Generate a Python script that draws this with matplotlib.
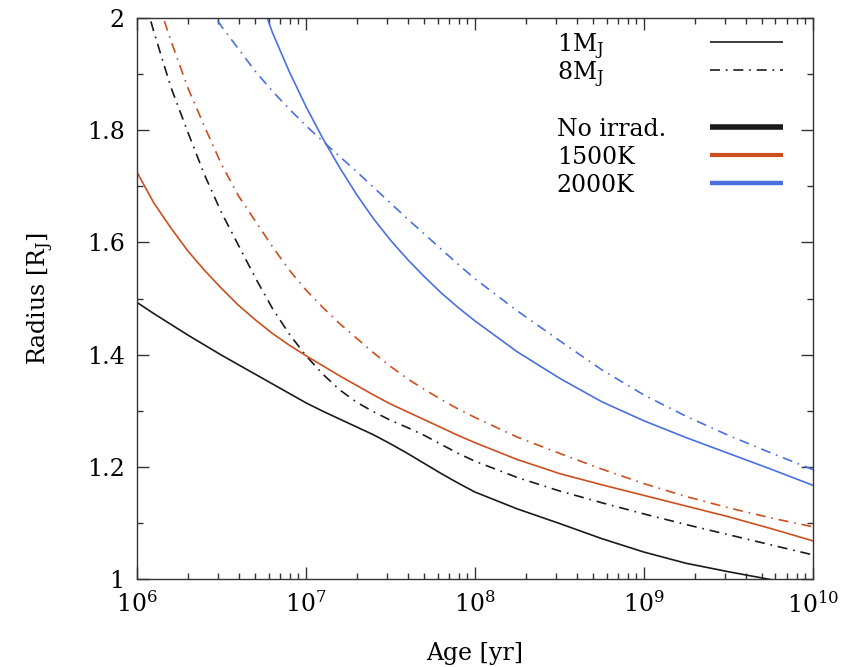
import numpy as np
import matplotlib
matplotlib.use("Agg")
import matplotlib.pyplot as plt
from matplotlib.ticker import LogLocator, LogFormatterMathtext, MultipleLocator, NullFormatter

plt.rcParams["font.family"] = ["DejaVu Serif"]
plt.rcParams["mathtext.fontset"] = "dejavuserif"
plt.rcParams["font.size"] = 17

nan = np.nan

# log10 of age [yr]
log_age = [6.0, 6.1, 6.2, 6.3, 6.4, 6.5, 6.6, 6.7, 6.8, 6.9,
           7.0, 7.1, 7.2, 7.3, 7.4, 7.5, 7.6, 7.7, 7.8, 7.9,
           8.0, 8.25, 8.5, 8.75, 9.0, 9.25, 9.5, 9.75, 10.0]

# radius [R_J]
r_1mj_noirr = [1.493, 1.473, 1.454, 1.435, 1.417, 1.399, 1.382, 1.365, 1.348, 1.331,
               1.314, 1.299, 1.285, 1.271, 1.257, 1.241, 1.224, 1.206, 1.188, 1.171,
               1.155, 1.125, 1.099, 1.072, 1.048, 1.028, 1.013, 0.999, 0.986]
r_8mj_noirr = [2.08, 1.975, 1.877, 1.797, 1.720, 1.653, 1.595, 1.537, 1.483, 1.437,
               1.398, 1.365, 1.337, 1.315, 1.298, 1.283, 1.270, 1.256, 1.240, 1.224,
               1.210, 1.181, 1.157, 1.136, 1.116, 1.097, 1.079, 1.061, 1.043]
r_1mj_1500 = [1.725, 1.670, 1.626, 1.585, 1.550, 1.518, 1.488, 1.462, 1.438, 1.417,
              1.398, 1.380, 1.362, 1.345, 1.328, 1.312, 1.298, 1.284, 1.270, 1.256,
              1.243, 1.213, 1.188, 1.168, 1.149, 1.130, 1.111, 1.090, 1.068]
r_8mj_1500 = [2.14, 2.05, 1.960, 1.876, 1.806, 1.739, 1.683, 1.638, 1.593, 1.551,
              1.515, 1.484, 1.455, 1.429, 1.403, 1.379, 1.357, 1.338, 1.320, 1.303,
              1.288, 1.253, 1.224, 1.196, 1.170, 1.147, 1.127, 1.109, 1.093]
r_1mj_2000 = [nan, nan, nan, nan, nan, nan, nan, 2.06, 1.975, 1.905,
              1.842, 1.785, 1.733, 1.685, 1.642, 1.604, 1.570, 1.539, 1.510, 1.484,
              1.460, 1.405, 1.358, 1.316, 1.282, 1.252, 1.224, 1.196, 1.167]
r_8mj_2000 = [nan, nan, nan, nan, 2.03, 1.985, 1.945, 1.905, 1.870, 1.838,
              1.808, 1.780, 1.753, 1.726, 1.698, 1.670, 1.642, 1.615, 1.588, 1.561,
              1.535, 1.478, 1.425, 1.373, 1.328, 1.290, 1.256, 1.225, 1.195]

age = 10.0 ** np.array(log_age)

black = "#1a1a1a"
orange = "#cc4f1e"
blue = "#4a70e0"
dashdot = (0, (6, 3.5, 1, 3.5))

fig, ax = plt.subplots(figsize=(8.48, 6.67), dpi=100)
fig.subplots_adjust(left=0.1616, right=0.9587, bottom=0.1319, top=0.973)

lw = 1.2
ax.plot(age, r_1mj_noirr, color=black, lw=lw)
ax.plot(age, r_8mj_noirr, color=black, lw=lw, linestyle=dashdot)
ax.plot(age, r_1mj_1500, color=orange, lw=lw)
ax.plot(age, r_8mj_1500, color=orange, lw=lw, linestyle=dashdot)
ax.plot(age, r_1mj_2000, color=blue, lw=lw)
ax.plot(age, r_8mj_2000, color=blue, lw=lw, linestyle=dashdot)

ax.set_xscale("log")
ax.set_xlim(1e6, 1e10)
ax.set_ylim(1, 2)
ax.xaxis.set_major_locator(LogLocator(base=10, numticks=10))
ax.xaxis.set_minor_locator(LogLocator(base=10, subs=np.arange(2, 10), numticks=50))
ax.xaxis.set_major_formatter(LogFormatterMathtext())
ax.xaxis.set_minor_formatter(NullFormatter())
ax.yaxis.set_major_locator(MultipleLocator(0.2))
ax.yaxis.set_minor_locator(MultipleLocator(0.1))
ax.set_yticks([1, 1.2, 1.4, 1.6, 1.8, 2])
ax.set_yticklabels(["1", "1.2", "1.4", "1.6", "1.8", "2"])

ax.tick_params(which="both", direction="in", top=True, right=True, color="#333333")
ax.tick_params(which="major", length=8.5, width=1.0, pad=9)
ax.tick_params(which="minor", length=4.5, width=1.0)
for s in ax.spines.values():
    s.set_linewidth(1.0)
    s.set_color("#333333")

ax.set_xlabel("Age [yr]", labelpad=17)
ax.set_ylabel("Radius [R$_\\mathrm{J}$]", labelpad=22)

# gnuplot-style key: text left, sample on the right
keys = [("1M$_\\mathrm{J}$", black, 1.2, "-", 0.957),
        ("8M$_\\mathrm{J}$", black, 1.2, dashdot, 0.907),
        ("No irrad.", black, 4.0, "-", 0.806),
        ("1500K", orange, 3.0, "-", 0.756),
        ("2000K", blue, 3.2, "-", 0.706)]
for label, c, w, ls, yk in keys:
    ax.text(0.621, yk - 0.017, label, transform=ax.transAxes, va="baseline", ha="left")
    ax.plot([0.848, 0.956], [yk, yk], transform=ax.transAxes, color=c, lw=w,
            linestyle=ls, solid_capstyle="butt")

fig.savefig("out.png", dpi=100)
